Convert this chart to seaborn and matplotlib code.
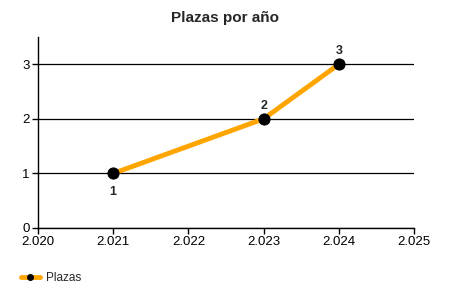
import matplotlib
matplotlib.use("Agg")
import matplotlib.pyplot as plt
import seaborn as sns
import pandas as pd
from matplotlib.ticker import FuncFormatter, MultipleLocator
from matplotlib.lines import Line2D

years = [2021, 2023, 2024]
plazas = [1, 2, 3]
series_name = "Plazas"
title = "Plazas por año"

df = pd.DataFrame({"year": years, "plazas": plazas})

sns.set_theme(style="white")
plt.rcParams['font.family'] = ['Liberation Sans', 'DejaVu Sans']

fig = plt.figure(figsize=(4.5, 3.0), dpi=100)
ax = fig.add_axes([38/450, 1 - 228/300, (414-38)/450, (228-37)/300])

sns.lineplot(data=df, x="year", y="plazas", ax=ax, color="#FFA500", linewidth=3.5,
             marker="o", markersize=8, markerfacecolor="black", markeredgecolor="black",
             legend=False)

ax.set_xlim(2020, 2025)
ax.set_ylim(0, 3.5)
ax.xaxis.set_major_locator(MultipleLocator(1))
ax.yaxis.set_major_locator(MultipleLocator(1))
ax.xaxis.set_major_formatter(FuncFormatter(lambda v, p: f"{int(round(v)):,}".replace(",", ".")))
ax.yaxis.set_major_formatter(FuncFormatter(lambda v, p: f"{int(round(v))}"))
ax.set_xlabel("")
ax.set_ylabel("")
ax.grid(axis="y", color="black", linewidth=0.9)
ax.grid(axis="x", visible=False)
ax.set_axisbelow(True)
for s in ["top", "right"]:
    ax.spines[s].set_visible(False)
for s in ["left", "bottom"]:
    ax.spines[s].set_color("black")
    ax.spines[s].set_linewidth(1)
ax.tick_params(axis="both", which="major", direction="out", length=4, width=1,
               color="black", labelsize=9.5, labelcolor="black", pad=2,
               bottom=True, left=True)

for x, y in zip(years, plazas):
    if y == 1:
        ax.annotate(str(y), (x, y), xytext=(0, -9), textcoords="offset points",
                    ha="center", va="top", fontsize=9, fontweight="bold")
    else:
        ax.annotate(str(y), (x, y), xytext=(0, 5), textcoords="offset points",
                    ha="center", va="bottom", fontsize=9, fontweight="bold")

fig.text(0.5, 1 - 18/300, title, ha="center", va="center", fontsize=11, fontweight="bold")

handle = Line2D([0], [0], color="#FFA500", linewidth=3.5, marker="o", markersize=4,
                markerfacecolor="black", markeredgecolor="black")
fig.legend([handle], [series_name], loc="center left", bbox_to_anchor=(21/450, 1 - 278/300),
           frameon=False, fontsize=8.5, handlelength=1.6, handletextpad=0.5, borderpad=0,
           borderaxespad=0)

fig.savefig("out.png", dpi=100, facecolor="white")
